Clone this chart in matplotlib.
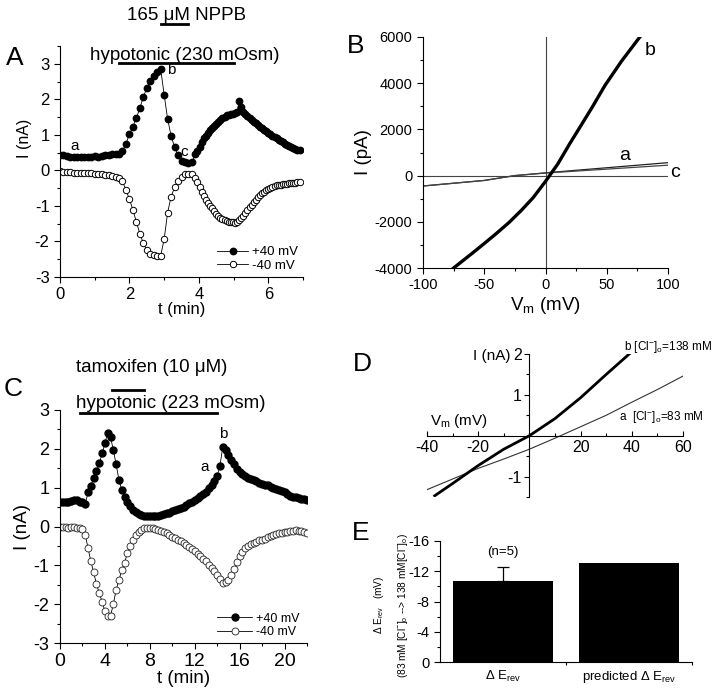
import numpy as np
import matplotlib
matplotlib.use('Agg')
import matplotlib.pyplot as plt
from matplotlib.ticker import MultipleLocator, FixedLocator

plt.rcParams['font.family'] = ['Liberation Sans', 'DejaVu Sans']
plt.rcParams['mathtext.fontset'] = 'custom'
plt.rcParams['mathtext.rm'] = 'Liberation Sans'
plt.rcParams['mathtext.it'] = 'Liberation Sans:italic'
plt.rcParams['axes.linewidth'] = 0.8
plt.rcParams['axes.unicode_minus'] = False

# ---- panel A: current vs time (NPPB) ----
t_a1 = np.linspace(0, 3.8, 39)
t_a2 = np.linspace(3.9, 6.9, 51)
pos_a1 = [0.44, 0.42, 0.40, 0.38, 0.38, 0.37, 0.38, 0.38, 0.39, 0.38,
          0.40, 0.37, 0.40, 0.42, 0.44, 0.45, 0.46, 0.47, 0.55, 0.75,
          1.02, 1.23, 1.47, 1.75, 2.06, 2.32, 2.52, 2.65, 2.76, 2.86,
          2.13, 1.45, 0.97, 0.66, 0.42, 0.27, 0.23, 0.22, 0.23]
pos_a2 = [0.45, 0.55, 0.66, 0.80, 0.90, 0.97, 1.05, 1.13, 1.19, 1.25,
          1.30, 1.36, 1.43, 1.47, 1.51, 1.55, 1.57, 1.59, 1.60, 1.61,
          1.63, 1.94, 1.79, 1.65, 1.58, 1.52, 1.47, 1.42, 1.37, 1.32,
          1.27, 1.23, 1.19, 1.15, 1.10, 1.06, 1.01, 0.97, 0.94, 0.90,
          0.86, 0.82, 0.79, 0.75, 0.72, 0.68, 0.66, 0.64, 0.61, 0.58,
          0.56]
neg_a1 = [-0.03, -0.04, -0.05, -0.05, -0.06, -0.06, -0.07, -0.07, -0.08, -0.08,
          -0.09, -0.10, -0.11, -0.12, -0.14, -0.16, -0.18, -0.21, -0.31, -0.55,
          -0.81, -1.11, -1.45, -1.78, -2.05, -2.24, -2.34, -2.38, -2.40, -2.40,
          -1.94, -1.19, -0.74, -0.48, -0.30, -0.18, -0.11, -0.09, -0.10]
neg_a2 = [-0.22, -0.32, -0.47, -0.60, -0.71, -0.82, -0.92, -1.00, -1.07, -1.14,
          -1.22, -1.28, -1.34, -1.38, -1.41, -1.43, -1.45, -1.46, -1.46, -1.47,
          -1.44, -1.39, -1.33, -1.27, -1.20, -1.11, -1.04, -0.96, -0.89, -0.82,
          -0.76, -0.70, -0.64, -0.60, -0.56, -0.52, -0.49, -0.46, -0.44, -0.42,
          -0.41, -0.40, -0.39, -0.38, -0.37, -0.36, -0.36, -0.35, -0.35, -0.34,
          -0.34]

# ---- panel B: I-V curves ----
v_b = [-75, -60, -50, -40, -30, -20, -10, 0, 10, 20, 27, 38, 48.5, 62, 77]
i_b = [-4000, -3370, -2940, -2500, -2040, -1520, -950, -250, 500, 1400,
       2000, 2950, 3900, 4950, 6000]
v_ac = [-100, -50, -25, 0, 50, 100]
i_a = [-450, -210, 0, 120, 340, 560]
i_c = [-450, -210, 0, 110, 280, 450]

# ---- panel C: current vs time (tamoxifen) ----
t_c = np.linspace(0, 22, 89)
pos_c = [0.62, 0.63, 0.62, 0.63, 0.65, 0.68, 0.67, 0.63, 0.62, 0.58,
         0.88, 1.05, 1.24, 1.42, 1.63, 1.88, 2.14, 2.42, 2.30, 1.97,
         1.60, 1.20, 0.94, 0.76, 0.62, 0.52, 0.43, 0.37, 0.33, 0.30,
         0.28, 0.27, 0.26, 0.26, 0.27, 0.28, 0.29, 0.31, 0.34, 0.36,
         0.39, 0.42, 0.45, 0.48, 0.51, 0.55, 0.60, 0.64, 0.69, 0.74,
         0.79, 0.84, 0.90, 0.98, 1.06, 1.16, 1.30, 1.57, 2.05, 1.98,
         1.85, 1.72, 1.60, 1.48, 1.40, 1.34, 1.29, 1.25, 1.22, 1.19,
         1.16, 1.13, 1.10, 1.07, 1.06, 1.02, 1.00, 0.97, 0.95, 0.92,
         0.89, 0.84, 0.79, 0.76, 0.75, 0.73, 0.72, 0.70, 0.69]
neg_c = [0.00, -0.01, -0.02, -0.03, -0.02, -0.02, -0.03, -0.04, -0.07, -0.22,
         -0.56, -0.90, -1.18, -1.49, -1.71, -1.94, -2.18, -2.30, -2.30, -2.00,
         -1.63, -1.38, -1.13, -0.93, -0.69, -0.50, -0.34, -0.22, -0.13, -0.08,
         -0.05, -0.04, -0.04, -0.05, -0.07, -0.09, -0.11, -0.14, -0.18, -0.22,
         -0.26, -0.30, -0.34, -0.38, -0.43, -0.48, -0.53, -0.58, -0.64, -0.70,
         -0.76, -0.83, -0.90, -0.98, -1.06, -1.15, -1.24, -1.36, -1.45, -1.44,
         -1.38, -1.25, -1.10, -0.92, -0.77, -0.65, -0.56, -0.50, -0.46, -0.42,
         -0.39, -0.36, -0.34, -0.31, -0.28, -0.25, -0.22, -0.20, -0.18, -0.16,
         -0.15, -0.14, -0.12, -0.11, -0.10, -0.12, -0.11, -0.13, -0.16]

# ---- panel D: I-V at two [Cl]o ----
v_d_b = [-37, -30, -20, -10, 0, 10, 20, 30, 39]
i_d_b = [-1.47, -1.17, -0.73, -0.33, 0.0, 0.42, 0.93, 1.50, 2.00]
v_d_a = [-40, -30, -20, -10, 0, 10, 20, 30, 40, 50, 60]
i_d_a = [-1.32, -1.06, -0.80, -0.57, -0.33, -0.06, 0.22, 0.50, 0.82, 1.13, 1.46]

# ---- panel E: reversal potential shift ----
e_labels = ['$\\Delta$ E$_{\\mathrm{rev}}$', 'predicted $\\Delta$ E$_{\\mathrm{rev}}$']
e_vals = [-10.7, -13.1]
e_err = 1.9

fig = plt.figure(figsize=(7.2, 6.9), dpi=100)


def frac(l, t, r, b):
    return [l / 720, 1 - b / 690, (r - l) / 720, (b - t) / 690]


def trace_style(ax):
    ax.spines['top'].set_visible(False)
    ax.spines['right'].set_visible(False)
    ax.tick_params(which='major', direction='out', length=4, width=0.8)
    ax.tick_params(which='minor', direction='out', length=2.5, width=0.8)


# ================= A =================
axA = fig.add_axes(frac(60, 46, 303, 277))
trace_style(axA)
ta = np.concatenate([t_a1, t_a2])
axA.plot(ta, pos_a1 + pos_a2, '-o', color='k', lw=0.6, ms=4.6, mfc='k', mec='k',
         label='+40 mV')
axA.plot(ta, neg_a1 + neg_a2, '-o', color='k', lw=0.6, ms=4.6, mfc='white',
         mec='k', mew=0.7, label='-40 mV')
axA.set_xlim(0, 7)
axA.set_ylim(-3, 3.5)
axA.xaxis.set_major_locator(MultipleLocator(2))
axA.xaxis.set_minor_locator(MultipleLocator(1))
axA.yaxis.set_major_locator(FixedLocator([-3, -2, -1, 0, 1, 2, 3]))
axA.yaxis.set_minor_locator(MultipleLocator(0.5))
axA.tick_params(labelsize=12)
axA.set_xlabel('t (min)', fontsize=12, labelpad=0)
axA.set_ylabel('I (nA)', fontsize=11.5, labelpad=2)
axA.yaxis.set_label_coords(-0.115, 0.6)
axA.legend(loc='lower right', frameon=False, fontsize=9.5, handlelength=2.3,
           handletextpad=0.3, labelspacing=0.1, borderaxespad=0.0,
           bbox_to_anchor=(1.0, 0.0))
axA.text(0.43, 0.69, 'a', fontsize=11, ha='center', va='center')
axA.text(3.2, 2.83, 'b', fontsize=11, ha='center', va='center')
axA.text(3.57, 0.52, 'c', fontsize=11, ha='center', va='center')
axA.plot([1.7, 5.0], [3.02, 3.02], color='k', lw=2, clip_on=False)
axA.plot([2.9, 3.7], [4.13, 4.13], color='k', lw=2, clip_on=False)
axA.text(3.6, 3.11, 'hypotonic (230 mOsm)', fontsize=13.5, ha='center', va='baseline')
axA.text(3.66, 4.22, '165 \u03bcM NPPB', fontsize=13.5, ha='center', va='baseline')

# ================= B =================
axB = fig.add_axes(frac(423, 37, 668, 268))
trace_style(axB)
axB.axhline(0, color='#444444', lw=0.8)
axB.axvline(0, color='#444444', lw=0.8)
axB.plot(v_ac, i_a, color='#222222', lw=0.9)
axB.plot(v_ac, i_c, color='#444444', lw=0.9)
axB.plot(v_b, i_b, color='k', lw=2.4)
axB.set_xlim(-100, 100)
axB.set_ylim(-4000, 6000)
axB.xaxis.set_major_locator(MultipleLocator(50))
axB.xaxis.set_minor_locator(MultipleLocator(25))
axB.yaxis.set_major_locator(MultipleLocator(2000))
axB.yaxis.set_minor_locator(MultipleLocator(1000))
axB.tick_params(labelsize=10.5)
axB.set_xlabel('V$_{\\mathrm{m}}$ (mV)', fontsize=13.5, labelpad=2)
axB.set_ylabel('I (pA)', fontsize=13.5, labelpad=2)
axB.text(85, 5437, 'b', fontsize=14, ha='center', va='center')
axB.text(65, 890, 'a', fontsize=14, ha='center', va='center')
axB.text(106, 113, 'c', fontsize=14, ha='center', va='center', clip_on=False)

# ================= C =================
axC = fig.add_axes(frac(60, 410, 307, 643))
trace_style(axC)
axC.plot(t_c, pos_c, '-o', color='k', lw=0.6, ms=5.0, mfc='k', mec='k',
         label='+40 mV')
axC.plot(t_c, neg_c, '-o', color='k', lw=0.6, ms=5.0, mfc='white', mec='#222222',
         mew=0.6, label='-40 mV')
axC.set_xlim(0, 22)
axC.set_ylim(-3, 3)
axC.xaxis.set_major_locator(MultipleLocator(4))
axC.xaxis.set_minor_locator(MultipleLocator(2))
axC.yaxis.set_major_locator(MultipleLocator(1))
axC.yaxis.set_minor_locator(MultipleLocator(0.5))
axC.tick_params(axis='x', labelsize=14)
axC.tick_params(axis='y', labelsize=13)
axC.set_xlabel('t (min)', fontsize=13.5, labelpad=0)
axC.set_ylabel('I (nA)', fontsize=13.5, labelpad=2)
axC.legend(loc='lower right', frameon=False, fontsize=9, handlelength=2.8,
           handletextpad=0.3, labelspacing=0.1, borderaxespad=0.0,
           bbox_to_anchor=(0.99, 0.0))
axC.text(12.9, 1.53, 'a', fontsize=11, ha='center', va='center')
axC.text(14.5, 2.38, 'b', fontsize=11, ha='center', va='center')
axC.plot([1.8, 14.0], [2.92, 2.92], color='k', lw=2, clip_on=False)
axC.plot([4.6, 7.5], [3.52, 3.52], color='k', lw=2, clip_on=False)
axC.text(9.9, 3.06, 'hypotonic (223 mOsm)', fontsize=13.5, ha='center', va='baseline')
axC.text(8.2, 3.98, 'tamoxifen (10 \u03bcM)', fontsize=13.5, ha='center', va='baseline')

# ================= D =================
axD = fig.add_axes(frac(427, 354, 683, 497))
axD.spines['top'].set_visible(False)
axD.spines['right'].set_visible(False)
axD.spines['left'].set_position(('data', 0))
axD.spines['bottom'].set_position(('data', 0))
axD.plot(v_d_a, i_d_a, color='#333333', lw=0.8)
axD.plot(v_d_b, i_d_b, color='k', lw=2.0)
axD.set_xlim(-40, 60)
axD.set_ylim(-1.5, 2)
axD.xaxis.set_major_locator(FixedLocator([-40, -20, 20, 40, 60]))
axD.xaxis.set_minor_locator(FixedLocator([-30, -10, 0, 10, 30, 50]))
axD.yaxis.set_major_locator(FixedLocator([-1, 1, 2]))
axD.yaxis.set_minor_locator(FixedLocator([-1.5, -0.5, 0.5, 1.5]))
axD.tick_params(axis='x', which='both', direction='in', labelsize=11.5, pad=3)
axD.tick_params(axis='y', which='both', direction='out', labelsize=11.5, pad=2)
axD.tick_params(which='major', length=3.5, width=0.8)
axD.tick_params(which='minor', length=2, width=0.8)
axD.text(-7.5, 1.95, 'I (nA)', fontsize=11, ha='right', va='center')
axD.text(-39, 0.36, 'V$_{\\mathrm{m}}$ (mV)', fontsize=11, ha='left', va='center')
axD.text(37, 2.17, 'b [Cl$^{-}$]$_{\\mathrm{o}}$=138 mM', fontsize=8.5, ha='left',
         va='center', clip_on=False)
axD.text(35, 0.47, 'a  [Cl$^{-}$]$_{\\mathrm{o}}$=83 mM', fontsize=8.5, ha='left',
         va='center')

# ================= E =================
axE = fig.add_axes(frac(440, 541, 692, 662))
trace_style(axE)
axE.bar([0, 1], e_vals, width=0.8, color='k')
axE.errorbar([0], [e_vals[0]], yerr=[[e_err], [0]], fmt='none', ecolor='k',
             elinewidth=0.9, capsize=4, capthick=0.9)
axE.set_xlim(-0.5, 1.5)
axE.set_ylim(0, -16)
axE.yaxis.set_major_locator(MultipleLocator(4))
axE.yaxis.set_minor_locator(MultipleLocator(2))
axE.set_xticks([0, 1])
axE.set_xticklabels(e_labels, fontsize=9.5)
axE.tick_params(axis='x', which='major', length=0, pad=5)
axE.xaxis.set_minor_locator(FixedLocator([0.5, 1.5]))
axE.tick_params(axis='y', labelsize=10.5)
axE.set_ylabel('$\\Delta$ E$_{\\mathrm{rev}}$   (mV)\n'
               '(83 mM [Cl$^{-}$]$_{\\mathrm{o}}$ --> 138 mM[Cl$^{-}$]$_{\\mathrm{o}}$)',
               fontsize=7.3, linespacing=2.0)
axE.yaxis.set_label_coords(-0.12, 0.47)
axE.text(0, -14.6, '(n=5)', fontsize=9.5, ha='center', va='center')

# panel letters
for letter, x, y in [('A', 15, 58), ('B', 356, 46), ('C', 13, 389),
                     ('D', 362, 364), ('E', 361, 533)]:
    fig.text(x / 720, 1 - y / 690, letter, fontsize=19, ha='center', va='center')

fig.savefig('out.png', dpi=100)
